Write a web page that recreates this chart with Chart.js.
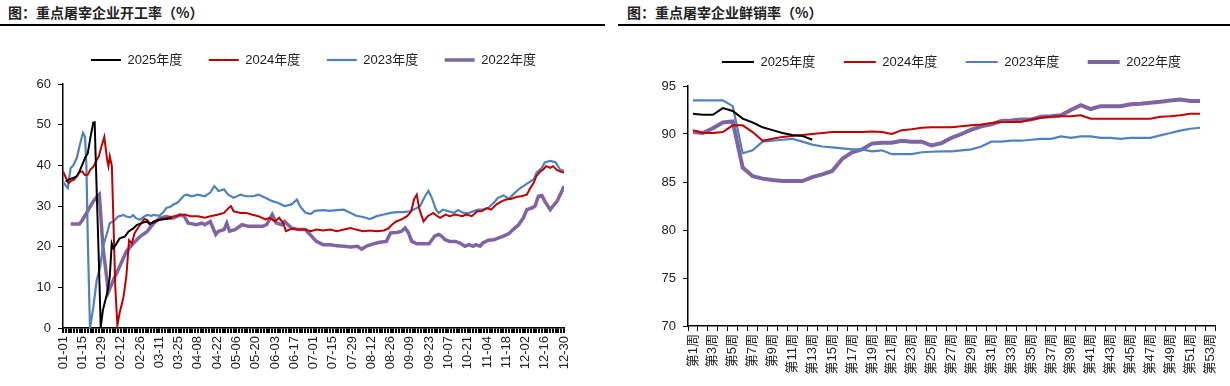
<!DOCTYPE html>
<html>
<head>
<meta charset="utf-8">
<script src="https://cdn.jsdelivr.net/npm/chart.js@4.4.1/dist/chart.umd.min.js"></script>
<style>
  body { margin: 0; width: 1230px; height: 386px; background: #fff; position: relative; overflow: hidden; font-family: "Noto Sans CJK SC", sans-serif; }
  .title { position: absolute; top: 2px; font-size: 14px; font-weight: bold; color: #222; }
  .rule { position: absolute; top: 24px; height: 2px; background: #000; }
  canvas { position: absolute; top: 27px; }
</style>
</head>
<body>
<div class="title" style="left:8px">图：重点屠宰企业开工率（%）</div>
<div class="rule" style="left:0;width:605px"></div>
<canvas id="rateChart" width="615" height="359" style="left:0"></canvas>
<div class="title" style="left:627px">图：重点屠宰企业鲜销率（%）</div>
<div class="rule" style="left:618px;width:612px"></div>
<canvas id="salesChart" width="615" height="359" style="left:615px"></canvas>
<script>
// x tick labels of the daily chart, one every 14 days
const dateTicks = ['01-01', '01-15', '01-29', '02-12', '02-26', '03-11', '03-25', '04-08', '04-22',
  '05-06', '05-20', '06-03', '06-17', '07-01', '07-15', '07-29', '08-12', '08-26', '09-09',
  '09-23', '10-07', '10-21', '11-04', '11-18', '12-02', '12-16', '12-30'];

// operating rate, [day of year, %]
const rate2025 = [[2, 36.0], [4, 36.5], [7.5, 36.9], [10, 37.3], [12, 38.5], [16, 41.8], [18, 43.0], [20, 47.0],
  [22, 50.5], [23, 50.6], [24, 39.0], [26, 17.0], [27.4, 0.2], [29, 4.4], [32, 8.5], [34, 12.6], [35.4, 20.8],
  [36.6, 19.6], [39, 20.8], [41, 22.0], [45, 22.5], [47.5, 23.7], [51, 24.5], [53.5, 25.3], [57, 25.8],
  [61, 26.2], [63, 25.5], [66, 26.2], [70.5, 26.6], [75, 26.8], [79, 27.0]];

const rate2024 = [[0, 38.5], [2, 37.0], [4, 35.6], [6, 36.2], [8, 36.5], [10, 37.3], [12, 38.3], [14, 38.5],
  [16, 37.6], [18, 37.7], [20, 39.0], [22, 39.6], [24, 41.0], [26, 42.2], [28, 44.7], [30, 47.0], [32, 41.5],
  [33, 39.8], [34, 42.2], [35.5, 39.8], [37, 22.0], [38, 10.0], [39.5, 0.7], [41, 3.5], [44, 7.7], [46, 12.6],
  [48, 21.6], [50, 20.8], [52, 23.3], [55, 24.9], [57, 25.8], [59, 26.8], [61, 26.6], [63, 25.8], [66, 25.8],
  [68, 26.4], [70, 26.6], [73, 26.9], [75, 27.0], [78, 27.3], [80, 27.4], [83, 27.6], [85, 27.8], [88, 27.9],
  [93, 27.5], [98, 27.5], [103, 27.1], [107, 27.5], [113, 27.9], [117, 28.3], [120, 29.4], [122, 30.0],
  [124, 28.7], [129, 28.3], [133, 28.3], [137, 27.9], [142, 27.5], [147, 26.7], [150, 27.1], [154, 26.2],
  [157, 27.1], [160, 25.8], [162, 23.8], [166, 24.4], [171, 24.2], [176, 24.2], [180, 23.8], [184, 24.2],
  [189, 24.0], [194, 24.2], [199, 23.8], [204, 24.2], [209, 24.6], [213, 24.2], [218, 23.8], [223, 24.0],
  [228, 23.8], [233, 24.0], [236, 24.4], [239, 25.4], [242, 26.2], [246, 26.7], [250, 27.5], [253, 28.7],
  [255, 31.6], [257, 32.8], [259, 29.1], [262, 26.2], [265, 27.5], [269, 28.3], [272, 27.5], [274, 27.1],
  [278, 27.9], [281, 27.5], [285, 27.9], [290, 27.5], [293, 27.9], [297, 27.5], [301, 28.7], [304, 28.7],
  [308, 29.5], [311, 29.1], [315, 30.4], [319, 31.2], [322, 31.6], [326, 31.8], [330, 32.3], [333, 32.4],
  [337, 32.8], [339, 34.1], [342, 35.7], [344, 37.4], [347, 38.6], [349, 39.0], [351, 39.8], [354, 39.4],
  [356, 39.8], [359, 38.8], [362, 38.4], [364, 38.2]];

const rate2023 = [[0, 36.0], [2, 35.0], [3.5, 34.4], [5.5, 39.3], [7.5, 40.0], [10, 41.8], [12, 44.7], [14.5, 48.0],
  [16, 47.0], [17, 40.0], [18, 22.0], [19.6, 0], [22, 5.0], [24.5, 11.8], [27, 15.0], [29, 20.0], [32, 23.3],
  [34, 25.8], [36.6, 26.2], [40, 27.4], [44, 27.8], [46, 27.4], [49, 27.2], [51, 27.8], [53, 27.0], [56, 26.6],
  [58, 27.2], [61, 27.8], [64, 27.6], [66, 27.8], [70, 27.6], [73, 28.5], [75, 29.5], [78, 29.8], [80, 30.3],
  [83, 30.8], [85, 31.5], [88, 32.6], [90, 32.8], [93.5, 32.4], [98, 32.8], [103, 32.4], [107, 33.3],
  [110, 34.9], [113, 33.7], [117, 34.1], [120, 32.8], [124, 32.0], [129, 32.8], [133, 32.4], [138, 32.4],
  [142, 32.8], [147, 32.0], [152, 31.2], [156, 30.8], [161, 30.0], [166, 30.4], [170, 31.6], [172, 30.0],
  [176, 28.4], [180, 28.0], [183, 28.8], [189, 29.0], [194, 28.8], [199, 29.0], [204, 29.1], [209, 28.3],
  [213, 27.6], [218, 27.3], [223, 26.8], [228, 27.5], [233, 27.9], [238, 28.3], [242, 28.5], [247, 28.5],
  [252, 28.7], [256, 29.3], [259.5, 30.0], [263, 32.4], [265.5, 33.7], [268, 32.0], [271, 29.1], [273, 28.3],
  [276, 29.1], [280, 28.7], [284, 28.3], [287, 29.0], [291, 28.3], [294.5, 28.2], [298, 28.7], [302, 29.1],
  [305, 29.1], [309, 29.5], [313, 30.8], [316, 32.0], [320, 32.6], [324, 31.8], [327, 32.8], [331, 34.1],
  [334.5, 34.9], [338, 35.7], [342, 36.5], [344, 38.2], [348, 39.4], [350, 40.7], [354, 41.1], [356, 40.9],
  [358, 40.7], [361, 39.0], [364, 38.6]];

const rate2022 = [[5.6, 25.6], [12, 25.6], [14, 26.5], [17, 28.2], [20, 30.0], [22, 31.1], [24.5, 32.2],
  [26.4, 32.8], [29, 20.0], [33, 8.9], [36.6, 11.8], [41, 15.0], [46, 18.8], [51, 20.8], [56, 22.5], [61, 23.7],
  [66, 25.8], [70.5, 27.0], [75, 27.4], [80, 27.0], [85, 27.8], [88, 27.5], [91, 25.8], [94, 25.6], [97, 25.4],
  [101, 25.8], [103, 25.4], [107, 26.2], [109, 24.6], [111, 23.0], [113, 23.8], [117, 24.2], [119, 25.8],
  [121, 23.8], [125, 24.2], [130, 25.4], [135, 25.0], [140, 25.0], [145, 25.0], [148, 25.4], [152, 27.9],
  [155, 25.8], [159, 25.4], [161, 26.2], [166, 24.6], [171, 24.2], [176, 24.2], [180, 22.8], [184, 21.3],
  [189, 20.5], [194, 20.5], [199, 20.2], [204, 20.1], [209, 19.9], [214, 20.1], [217, 19.4], [221, 20.2],
  [225.5, 20.7], [230, 21.1], [235, 21.3], [238, 23.4], [242.5, 23.5], [246, 23.8], [248.6, 24.6], [251, 23.4],
  [253.4, 21.3], [257, 20.7], [262, 20.7], [266, 20.7], [270, 22.6], [273, 23.0], [275, 22.6], [277.6, 21.7],
  [281, 21.3], [285, 21.3], [288.5, 20.9], [292, 20.1], [295, 20.5], [298, 20.1], [300, 20.5], [303, 20.1],
  [305, 20.9], [309, 21.6], [313, 21.7], [316, 22.1], [320, 22.6], [324, 23.2], [327, 24.2], [331, 25.4],
  [334.5, 27.1], [337, 29.1], [340.6, 29.5], [343, 30.0], [345.4, 32.4], [348, 32.6], [350, 31.2], [354, 29.1],
  [356, 30.0], [359, 31.2], [362, 33.3], [364, 34.9]];

// fresh sales rate, weekly
const weekLabels = Array.from({ length: 53 }, (_, i) => '第' + (i + 1) + '周');
const sales2025 = [92.1, 92.0, 92.0, 92.7, 92.4, 91.6, 91.2, 90.7, 90.4, 90.1, 89.9, 89.8, 89.4];
const sales2024 = [90.4, 90.1, 90.1, 90.2, 90.9, 90.9, 90.2, 89.3, 89.5, 89.7, 89.8, 89.9, 90.0, 90.1,
  90.2, 90.2, 90.2, 90.2, 90.25, 90.2, 90.0, 90.4, 90.5, 90.65, 90.7, 90.7, 90.7, 90.8, 90.9, 91.0,
  91.15, 91.25, 91.25, 91.25, 91.5, 91.7, 91.8, 91.85, 91.85, 91.95, 91.6, 91.6, 91.6, 91.6, 91.6,
  91.6, 91.6, 91.8, 91.85, 91.95, 92.1, 92.1];
const sales2023 = [93.5, 93.5, 93.5, 93.5, 92.9, 88.0, 88.3, 89.2, 89.3, 89.4, 89.5, 89.2, 88.9, 88.7,
  88.6, 88.5, 88.4, 88.4, 88.2, 88.3, 87.9, 87.9, 87.9, 88.1, 88.15, 88.2, 88.2, 88.3, 88.4, 88.7,
  89.2, 89.2, 89.3, 89.3, 89.4, 89.5, 89.5, 89.75, 89.6, 89.75, 89.75, 89.6, 89.6, 89.5, 89.6, 89.6,
  89.6, 89.85, 90.1, 90.35, 90.55, 90.65];
const sales2022 = [90.2, 90.1, 90.6, 91.2, 91.3, 86.5, 85.6, 85.35, 85.2, 85.1, 85.1, 85.1, 85.5, 85.8,
  86.15, 87.4, 88.1, 88.4, 89.0, 89.1, 89.1, 89.3, 89.2, 89.2, 88.8, 89.05, 89.6, 90.0, 90.45, 90.8,
  91.0, 91.35, 91.4, 91.5, 91.5, 91.8, 91.85, 91.95, 92.5, 93.0, 92.6, 92.9, 92.9, 92.9, 93.1, 93.15,
  93.25, 93.35, 93.5, 93.6, 93.45, 93.45];

const tickFont = { family: '"Liberation Sans", "Noto Sans CJK SC", sans-serif', size: 13 };
const legendFont = { family: '"Liberation Sans", "Noto Sans CJK SC", sans-serif', size: 13 };

const toPoints = (pairs) => pairs.map(p => ({ x: p[0], y: p[1] }));

// pushes the plot down a little below the legend row
const legendGap = (gap) => ({
  id: 'legendGap',
  beforeInit(chart) {
    const fit = chart.legend.fit;
    chart.legend.fit = function () {
      fit.call(this);
      this.height += gap;
    };
  }
});

const legendOptions = (padding, lineWidth) => ({
  fullSize: false,
  labels: {
    usePointStyle: true,
    pointStyle: 'line',
    pointStyleWidth: lineWidth,
    padding: padding,
    color: '#222',
    font: legendFont
  }
});

const yAxis = (min, max, step, width) => ({
  min: min,
  max: max,
  afterFit: (scale) => { scale.width = width; },
  border: { color: '#000', width: 1.5 },
  grid: { drawOnChartArea: false, tickLength: 5, color: '#000' },
  ticks: { stepSize: step, padding: 7, color: '#222', font: tickFont }
});

new Chart(document.getElementById('rateChart'), {
  type: 'line',
  data: {
    datasets: [
      { label: '2025年度', data: toPoints(rate2025), borderColor: '#000000', backgroundColor: '#000000', borderWidth: 2 },
      { label: '2024年度', data: toPoints(rate2024), borderColor: '#C00000', backgroundColor: '#C00000', borderWidth: 2 },
      { label: '2023年度', data: toPoints(rate2023), borderColor: '#4F81BD', backgroundColor: '#4F81BD', borderWidth: 2.2 },
      { label: '2022年度', data: toPoints(rate2022), borderColor: '#8064A2', backgroundColor: '#8064A2', borderWidth: 3.5 }
    ]
  },
  options: {
    responsive: false,
    animation: false,
    layout: { padding: { left: 0, right: 51, top: 0, bottom: 0 } },
    elements: { point: { radius: 0 }, line: { tension: 0 } },
    plugins: {
      legend: legendOptions(26.5, 30),
      tooltip: { enabled: false }
    },
    scales: {
      x: {
        type: 'linear',
        min: 0,
        max: 364,
        afterFit: (scale) => { scale.height = 58; },
        border: { color: '#000', width: 1.5 },
        grid: { drawOnChartArea: false, tickLength: 5, lineWidth: 2, color: '#000' },
        ticks: {
          stepSize: 2,
          autoSkip: false,
          maxRotation: 90,
          minRotation: 90,
          padding: 3,
          color: '#222',
          font: tickFont,
          callback: (v) => (Math.round(v) % 14 === 0 ? dateTicks[Math.round(v) / 14] : '')
        }
      },
      y: yAxis(0, 60, 10, 63)
    }
  },
  plugins: [legendGap(7.5)]
});

new Chart(document.getElementById('salesChart'), {
  type: 'line',
  data: {
    labels: weekLabels,
    datasets: [
      { label: '2025年度', data: sales2025, borderColor: '#000000', backgroundColor: '#000000', borderWidth: 2 },
      { label: '2024年度', data: sales2024, borderColor: '#C00000', backgroundColor: '#C00000', borderWidth: 2 },
      { label: '2023年度', data: sales2023, borderColor: '#4F81BD', backgroundColor: '#4F81BD', borderWidth: 2.2 },
      { label: '2022年度', data: sales2022, borderColor: '#8064A2', backgroundColor: '#8064A2', borderWidth: 4 }
    ]
  },
  options: {
    responsive: false,
    animation: false,
    layout: { padding: { left: 0, right: 15, top: 0, bottom: 0 } },
    elements: { point: { radius: 0 }, line: { tension: 0 } },
    plugins: {
      legend: legendOptions(28.5, 32),
      tooltip: { enabled: false }
    },
    scales: {
      x: {
        offset: true,
        afterFit: (scale) => { scale.height = 60; },
        border: { color: '#000', width: 1.5 },
        grid: { offset: true, drawOnChartArea: false, tickLength: 5, color: '#000' },
        ticks: {
          autoSkip: false,
          maxRotation: 90,
          minRotation: 90,
          padding: 3,
          color: '#222',
          font: tickFont,
          callback: (v, i) => (i % 2 === 0 ? weekLabels[i] : '')
        }
      },
      y: yAxis(70, 95, 5, 73)
    }
  },
  plugins: [legendGap(7.5)]
});
</script>
</body>
</html>
